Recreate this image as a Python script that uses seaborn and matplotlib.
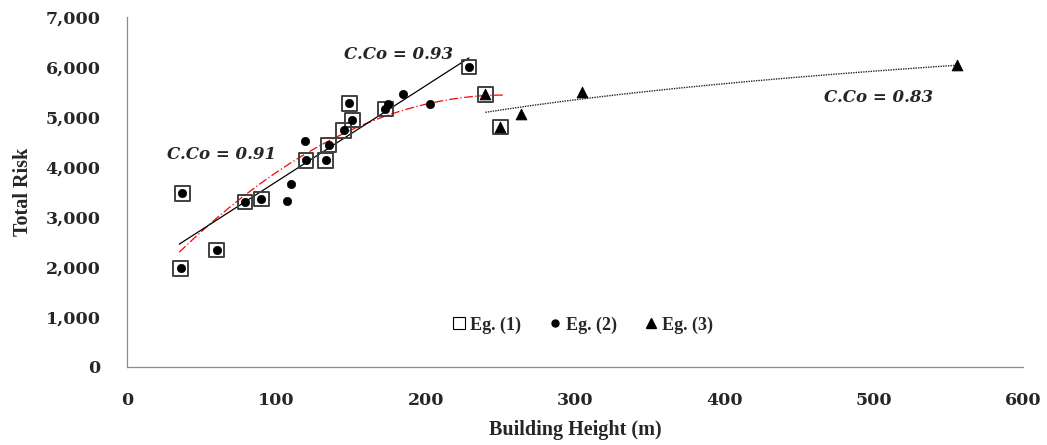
import numpy as np
import pandas as pd
import matplotlib
matplotlib.use('Agg')
import matplotlib.pyplot as plt
from matplotlib.lines import Line2D
import seaborn as sns

# Eg. (1) - squares
eg1_h = [36, 37, 60, 79, 90, 120, 133, 135, 145, 149, 151, 173, 229, 240, 250]
eg1_r = [1970, 3470, 2340, 3300, 3360, 4130, 4130, 4440, 4730, 5270, 4940, 5160, 6000, 5450, 4800]

# Eg. (2) - dots
eg2_h = [36, 37, 60, 79, 90, 107, 110, 119, 120, 133, 135, 145, 149, 151, 173, 175, 185, 203, 229]
eg2_r = [1970, 3470, 2340, 3300, 3360, 3320, 3660, 4510, 4130, 4130, 4440, 4730, 5270, 4940, 5160, 5250, 5460, 5250, 6000]

# Eg. (3) - triangles
eg3_h = [240, 250, 264, 305, 556]
eg3_r = [5450, 4800, 5050, 5500, 6030]

sns.set_style('white')
plt.rcParams['font.family'] = ['DejaVu Serif']
plt.rcParams['font.weight'] = 'bold'

fig, ax = plt.subplots(figsize=(10.47, 4.45), dpi=100)
fig.subplots_adjust(left=0.1213, right=0.977, bottom=0.1753, top=0.9618)

df1 = pd.DataFrame({'h': eg1_h, 'r': eg1_r})
df2 = pd.DataFrame({'h': eg2_h, 'r': eg2_r})
df3 = pd.DataFrame({'h': eg3_h, 'r': eg3_r})

# trend lines (Excel-style fits)
x1 = np.linspace(min(eg1_h) - 1, max(eg1_h) + 2, 200)
c1 = np.polyfit(eg1_h, eg1_r, 2)
ax.plot(x1, np.polyval(c1, x1), color='red', lw=0.9, ls=(0, (7, 2, 1, 2)), zorder=2)

x2 = np.linspace(min(eg2_h) - 1, max(eg2_h), 50)
c2 = np.polyfit(eg2_h, eg2_r, 1)
ax.plot(x2, np.polyval(c2, x2), color='black', lw=0.9, zorder=2)

x3 = np.linspace(min(eg3_h), max(eg3_h), 200)
c3 = np.polyfit(np.log(eg3_h), eg3_r, 1)
ax.plot(x3, np.polyval(c3, np.log(x3)), color='#222222', lw=1.0, ls=(0, (1, 0.8)), zorder=2)

sns.scatterplot(data=df1, x='h', y='r', ax=ax, marker='s', s=110, facecolor='none',
                edgecolor='#404040', linewidth=1.4, zorder=3)
sns.scatterplot(data=df2, x='h', y='r', ax=ax, marker='o', s=36, color='black',
                edgecolor='black', zorder=4)
sns.scatterplot(data=df3, x='h', y='r', ax=ax, marker='^', s=60, color='black',
                edgecolor='black', zorder=4)

ax.set_xlim(0, 600)
ax.set_ylim(0, 7000)
ax.set_xticks(range(0, 601, 100))
ax.set_yticks(range(0, 7001, 1000))
ax.yaxis.set_major_formatter(matplotlib.ticker.StrMethodFormatter('{x:,.0f}'))
for s in ['top', 'right']:
    ax.spines[s].set_visible(False)
for s in ['left', 'bottom']:
    ax.spines[s].set_color('#8c8c8c')
    ax.spines[s].set_linewidth(0.9)
ax.tick_params(axis='both', direction='out', length=5, color='#8c8c8c', width=0.9,
               labelsize=12.5)
ax.tick_params(axis='x', pad=13)
ax.tick_params(axis='y', pad=14)
for lab in ax.get_xticklabels() + ax.get_yticklabels():
    lab.set_fontweight('bold')

ax.set_xlabel('Building Height (m)', family='Liberation Serif', fontsize=14.5,
              fontweight='bold', labelpad=8)
ax.set_ylabel('Total Risk', family='Liberation Serif', fontsize=14.5,
              fontweight='bold', labelpad=9)

ann = dict(fontsize=12, fontweight='bold', style='italic', va='center', ha='left')
ax.text(27, 4240, 'C.Co = 0.91', **ann)
ax.text(145, 6240, 'C.Co = 0.93', **ann)
ax.text(467, 5380, 'C.Co = 0.83', **ann)

handles = [
    Line2D([], [], marker='s', ls='none', markerfacecolor='white', markeredgecolor='black',
           markeredgewidth=0.8, markersize=8.5),
    Line2D([], [], marker='o', ls='none', color='black', markersize=5),
    Line2D([], [], marker='^', ls='none', color='black', markersize=7),
]
ax.legend(handles, ['Eg. (1)', 'Eg. (2)', 'Eg. (3)'], loc='center',
          bbox_to_anchor=(0.507, 0.12), ncol=3, frameon=False, handletextpad=0.1,
          columnspacing=1.4, handlelength=1.0,
          prop={'family': 'Liberation Serif', 'weight': 'bold', 'size': 13})

fig.savefig('out.png', dpi=100)
